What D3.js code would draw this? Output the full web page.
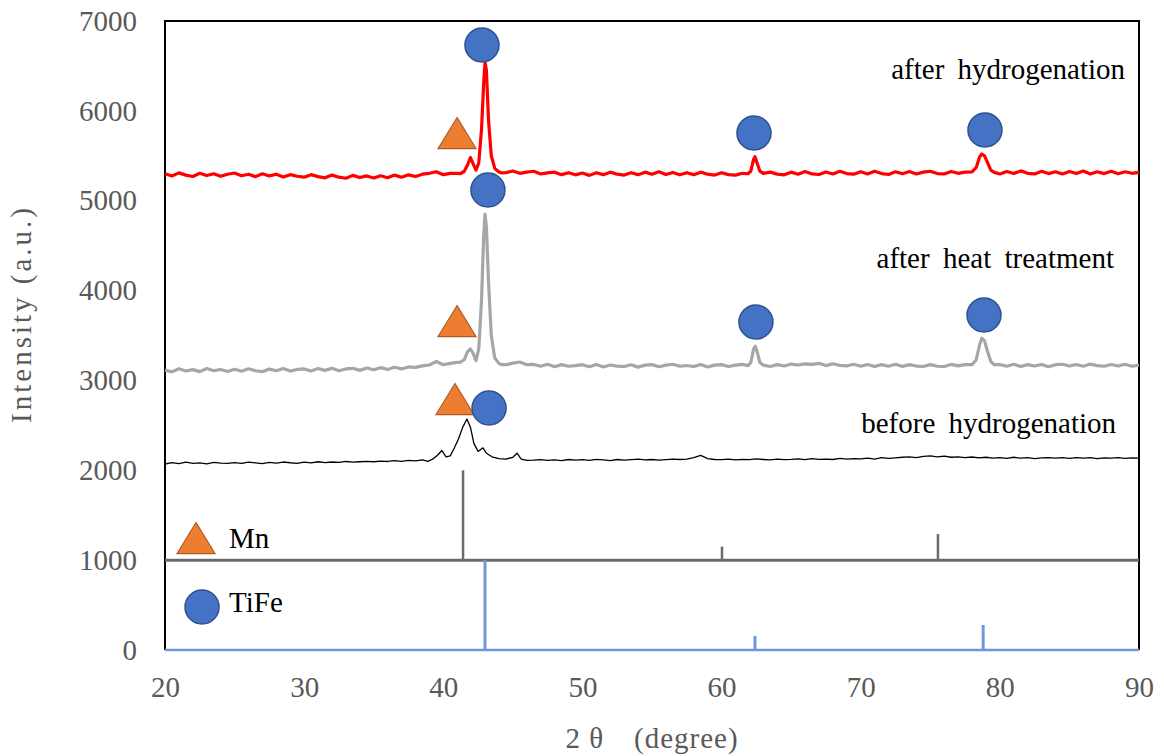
<!DOCTYPE html>
<html>
<head>
<meta charset="utf-8">
<script src="https://cdn.jsdelivr.net/npm/d3@7"></script>
<style>
	html, body { margin: 0; padding: 0; background: #fff; }
	svg text { font-family: "Liberation Serif", "Times New Roman", serif; }
</style>
</head>
<body>
<div id="chart"></div>
<script>
// scan grid (degree)
const scanStart = 20;
const scanStep = 0.5;

// baselines, one value every 0.5 deg from 20 to 90
const redBase = [
	5300,5275,5310,5285,5270,5305,5280,5300,5272,5295,
	5308,5278,5295,5268,5300,5276,5295,5265,5290,5272,
	5262,5290,5268,5255,5285,5262,5250,5282,5258,5276,
	5252,5278,5256,5285,5262,5288,5270,5295,5305,5322,
	5290,5305,5305,5300,5310,5320,5310,5305,5300,5312,
	5330,5305,5318,5328,5298,5310,5318,5290,5312,5288,
	5308,5282,5312,5290,5318,5295,5285,5312,5290,5318,
	5295,5322,5292,5315,5288,5312,5290,5318,5295,5285,
	5312,5290,5285,5305,5318,5300,5290,5318,5296,5288,
	5318,5295,5325,5298,5292,5320,5298,5328,5302,5295,
	5322,5298,5328,5302,5292,5322,5300,5325,5298,5318,
	5328,5302,5298,5325,5305,5318,5298,5292,5318,5322,
	5298,5325,5302,5332,5305,5298,5328,5302,5322,5298,
	5325,5302,5330,5298,5322,5302,5328,5300,5322,5305,
	5315
];
const greyBase = [
	3115,3095,3130,3105,3120,3098,3132,3108,3122,3100,
	3125,3102,3130,3108,3098,3126,3108,3132,3104,3122,
	3128,3105,3132,3112,3136,3108,3128,3135,3112,3138,
	3118,3142,3122,3146,3128,3150,3145,3162,3172,3210,
	3175,3190,3200,3210,3220,3300,3300,3200,3180,3175,
	3192,3205,3175,3178,3158,3180,3152,3176,3158,3165,
	3175,3152,3178,3150,3172,3160,3155,3175,3148,3170,
	3176,3152,3170,3180,3158,3166,3155,3178,3150,3170,
	3176,3155,3170,3178,3160,3178,3162,3155,3176,3160,
	3182,3172,3185,3178,3190,3165,3185,3168,3162,3180,
	3158,3178,3155,3176,3158,3180,3156,3176,3160,3155,
	3176,3158,3155,3178,3162,3176,3158,3178,3160,3155,
	3176,3158,3180,3155,3176,3160,3178,3152,3175,3180,
	3160,3178,3158,3182,3165,3158,3178,3160,3180,3158,
	3170
];
const blackBase = [
	2070,2085,2075,2090,2078,2082,2072,2088,2080,2076,
	2085,2078,2090,2082,2075,2088,2080,2092,2084,2078,
	2090,2082,2095,2085,2092,2088,2098,2090,2095,2100,
	2095,2102,2098,2108,2100,2110,2105,2115,2130,2180,
	2150,2160,2300,2500,2400,2220,2250,2180,2140,2130,
	2160,2130,2120,2112,2118,2110,2115,2108,2120,2112,
	2118,2110,2122,2115,2108,2120,2112,2118,2125,2115,
	2120,2112,2118,2125,2120,2125,2140,2165,2130,2120,
	2118,2125,2115,2122,2118,2126,2120,2115,2125,2118,
	2122,2128,2118,2130,2122,2125,2120,2132,2125,2130,
	2128,2135,2125,2140,2132,2138,2145,2150,2142,2155,
	2160,2150,2158,2145,2150,2140,2148,2138,2145,2135,
	2140,2132,2145,2135,2140,2130,2138,2142,2135,2140,
	2132,2140,2135,2142,2130,2138,2135,2140,2132,2138,
	2135
];

// peak regions [2theta, intensity], they replace the baseline inside their range
const redPeaks = [
	[[41.2,5300],[41.5,5325],[41.75,5400],[41.95,5480],[42.15,5410],[42.35,5340],[42.55,5420],[42.75,5800],[42.9,6300],[43.0,6540],[43.1,6450],[43.25,5900],[43.45,5500],[43.7,5360],[44.0,5320],[44.2,5310]],
	[[61.9,5300],[62.1,5330],[62.3,5460],[62.4,5490],[62.55,5420],[62.75,5330],[63.0,5305]],
	[[78.0,5320],[78.3,5370],[78.55,5490],[78.7,5520],[78.9,5500],[79.1,5430],[79.35,5340],[79.6,5315]]
];
const greyPeaks = [
	[[41.2,3200],[41.5,3230],[41.75,3320],[41.95,3350],[42.15,3300],[42.35,3220],[42.55,3350],[42.75,3900],[42.9,4600],[43.0,4850],[43.1,4700],[43.25,4100],[43.45,3500],[43.7,3250],[44.0,3190],[44.2,3175]],
	[[61.9,3165],[62.1,3200],[62.3,3350],[62.42,3380],[62.55,3320],[62.75,3200],[63.0,3170]],
	[[78.0,3175],[78.3,3230],[78.55,3400],[78.7,3470],[78.9,3440],[79.1,3330],[79.35,3210],[79.6,3175]]
];
const blackPeaks = [
	[[38.9,2100],[39.3,2130],[39.6,2170],[39.9,2220],[40.2,2150],[40.5,2160],[40.8,2250],[41.1,2350],[41.4,2480],[41.7,2570],[41.95,2480],[42.2,2300],[42.5,2210],[42.85,2250],[43.1,2190],[43.5,2150],[44.0,2130],[44.5,2125],[45.0,2145],[45.3,2190],[45.6,2125],[46.0,2110]]
];

// reference patterns (stick positions and heights)
const mnPos = [41.42, 60.03, 75.55];
const mnInt = [1000, 150, 290];
const mnOffset = 1000;
const tifePos = [43.0, 53.3, 62.4, 70.9, 78.8];
const tifeInt = [1000, 12, 156, 8, 278];

// phase marks [2theta, intensity]
const mnMarks = [[40.99,5753],[40.99,3661],[40.84,2793],[22.23,1246]];
const tifeMarks = [[42.78,6733],[62.33,5753],[78.93,5787],[43.21,5119],[62.47,3650],[78.86,3728],[43.29,2693],[22.66,479]];

const curveNames = ['after hydrogenation', 'after heat treatment', 'before hydrogenation'];
const curveNameX = [89.0, 88.2, 88.35];
const curveNameY = [6354, 4251, 2415];
const legendNames = ['Mn', 'TiFe'];
const legendX = [24.6, 24.6];
const legendY = [1135, 425];

const xTicks = d3.range(20, 91, 10);
const yTicks = d3.range(0, 7001, 1000);

{
	const W = 1164, H = 756;
	const margin = { top: 21, right: 25, bottom: 106, left: 165 };

	let svg = d3.select('#chart').append('svg')
		.attr('width', W)
		.attr('height', H);

	let x = d3.scaleLinear().domain([20, 90]).range([margin.left, W - margin.right]);
	let y = d3.scaleLinear().domain([0, 7000]).range([H - margin.bottom, margin.top]);

	const buildScan = (base, peaks) => {
		let pts = base.map((v, i) => [scanStart + i * scanStep, v]);
		peaks.forEach(g => {
			let lo = g[0][0], hi = g[g.length - 1][0];
			pts = pts.filter(p => p[0] < lo || p[0] > hi).concat(g);
		});
		return pts.sort((a, b) => a[0] - b[0]);
	};

	let line = d3.line()
		.x(d => x(d[0]))
		.y(d => y(d[1]));

	// axes
	let yAxis = svg.append('g')
		.attr('transform', `translate(${margin.left},0)`)
		.call(d3.axisLeft(y).tickValues(yTicks).tickSize(0).tickPadding(28).tickFormat(d3.format('d')));
	let xAxis = svg.append('g')
		.attr('transform', `translate(0,${y(0)})`)
		.call(d3.axisBottom(x).tickValues(xTicks).tickSize(0).tickPadding(26));
	[yAxis, xAxis].forEach(a => {
		a.select('.domain').remove();
		a.selectAll('text')
			.style('font-family', '"Liberation Serif", serif')
			.style('font-size', '29px')
			.attr('fill', '#595959');
	});

	// frame
	svg.append('path')
		.attr('d', `M${x(20)},${y(0)}V${y(7000)}H${x(90)}V${y(0)}`)
		.attr('fill', 'none')
		.attr('stroke', '#000')
		.attr('stroke-width', 2);

	// Mn sticks
	svg.append('line')
		.attr('x1', x(20)).attr('x2', x(90))
		.attr('y1', y(mnOffset)).attr('y2', y(mnOffset))
		.attr('stroke', '#6b6b6b').attr('stroke-width', 3);
	svg.selectAll('line.mn')
		.data(mnPos)
		.enter().append('line')
			.classed('mn', true)
			.attr('x1', d => x(d)).attr('x2', d => x(d))
			.attr('y1', y(mnOffset))
			.attr('y2', (d, i) => y(mnOffset + mnInt[i]))
			.attr('stroke', '#6b6b6b').attr('stroke-width', 2.5);

	// TiFe sticks
	svg.append('line')
		.attr('x1', x(20)).attr('x2', x(90))
		.attr('y1', y(0)).attr('y2', y(0))
		.attr('stroke', '#6f96da').attr('stroke-width', 2.5);
	svg.selectAll('line.tife')
		.data(tifePos)
		.enter().append('line')
			.classed('tife', true)
			.attr('x1', d => x(d)).attr('x2', d => x(d))
			.attr('y1', y(0))
			.attr('y2', (d, i) => y(tifeInt[i]))
			.attr('stroke', '#6f96da').attr('stroke-width', 3);

	// scans
	const scans = [
		{ pts: buildScan(blackBase, blackPeaks), color: '#000', w: 1.3 },
		{ pts: buildScan(greyBase, greyPeaks), color: '#a6a6a6', w: 3.2 },
		{ pts: buildScan(redBase, redPeaks), color: '#ff0000', w: 3.2 }
	];
	svg.selectAll('path.scan')
		.data(scans)
		.enter().append('path')
			.classed('scan', true)
			.attr('d', d => line(d.pts))
			.attr('fill', 'none')
			.attr('stroke', d => d.color)
			.attr('stroke-width', d => d.w)
			.attr('stroke-linejoin', 'round');

	// marks
	svg.selectAll('path.mnMark')
		.data(mnMarks)
		.enter().append('path')
			.classed('mnMark', true)
			.attr('d', 'M0,-15.5L19,15.5L-19,15.5Z')
			.attr('transform', d => `translate(${x(d[0])},${y(d[1])})`)
			.attr('fill', '#ed7d31')
			.attr('stroke', '#ae5a21')
			.attr('stroke-width', 1.2);
	svg.selectAll('circle.tifeMark')
		.data(tifeMarks)
		.enter().append('circle')
			.classed('tifeMark', true)
			.attr('cx', d => x(d[0]))
			.attr('cy', d => y(d[1]))
			.attr('r', 17)
			.attr('fill', '#4472c4')
			.attr('stroke', '#2f528f')
			.attr('stroke-width', 1.5);

	// labels
	svg.selectAll('text.curveName')
		.data(curveNames)
		.enter().append('text')
			.classed('curveName', true)
			.attr('x', (d, i) => x(curveNameX[i]))
			.attr('y', (d, i) => y(curveNameY[i]))
			.attr('text-anchor', 'end')
			.style('font-size', '29px')
			.style('word-spacing', '6px')
			.text(d => d);
	svg.selectAll('text.legendName')
		.data(legendNames)
		.enter().append('text')
			.classed('legendName', true)
			.attr('x', (d, i) => x(legendX[i]))
			.attr('y', (d, i) => y(legendY[i]))
			.style('font-size', '29px')
			.text(d => d);

	svg.append('text')
		.attr('transform', 'translate(31,314) rotate(-90)')
		.attr('text-anchor', 'middle')
		.attr('fill', '#595959')
		.style('font-size', '29px')
		.style('letter-spacing', '3px')
		.text('Intensity (a.u.)');
	svg.append('text')
		.attr('x', (x(20) + x(90)) / 2)
		.attr('y', 748)
		.attr('text-anchor', 'middle')
		.attr('fill', '#595959')
		.style('font-size', '29px')
		.style('letter-spacing', '1px')
		.text('2 θ\u3000(degree)');
}
</script>
</body>
</html>
